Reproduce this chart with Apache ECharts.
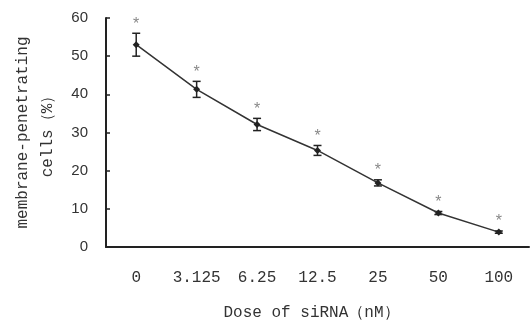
<!DOCTYPE html>
<html><head><meta charset="utf-8">
<script src="https://cdn.jsdelivr.net/npm/echarts@6/dist/echarts.min.js"></script>
<style>html,body{margin:0;padding:0;background:#fff}#c{width:530px;height:321px}</style>
</head><body><div id="c"></div>
<script>
const categories = ['0','3.125','6.25','12.5','25','50','100'];
const means = [53.0, 41.3, 32.1, 25.3, 16.8, 8.9, 3.9];
const errors = [3.0, 2.1, 1.6, 1.3, 0.8, 0.4, 0.3];
const yTicks = [0,10,20,30,40,50,60];
const xTitle = 'Dose of siRNA（nM）';
const yTitle = 'membrane-penetrating\ncells（%）';

const chart = echarts.init(document.getElementById('c'));
const mono = '"Liberation Mono","DejaVu Sans Mono",monospace';
chart.setOption({
  animation:false,
  grid:{left:106,right:1,top:18,bottom:74,outerBoundsMode:'none',containLabel:false},
  xAxis:{type:'category',data:categories,boundaryGap:true,
    axisLine:{lineStyle:{color:'#222',width:2}},
    axisTick:{inside:true,length:5,lineStyle:{color:'#222',width:1.5},alignWithLabel:false},
    axisLabel:{color:'#333',fontFamily:mono,fontSize:16,margin:23,interval:0,hideOverlap:false},
    name:xTitle,nameLocation:'middle',nameGap:58,
    nameTextStyle:{color:'#333',fontFamily:mono,fontSize:16,padding:[0,12,0,0]}},
  yAxis:{type:'value',min:0,max:60,interval:10,
    axisLine:{show:true,lineStyle:{color:'#222',width:2}},
    axisTick:{show:true,inside:true,length:4,lineStyle:{color:'#222',width:1.5}},
    splitLine:{show:false},
    axisLabel:{color:'#333',fontFamily:'"Liberation Sans",Arial,sans-serif',fontSize:15,margin:18,
      formatter:v=>yTicks.includes(v)?String(v):''},
    name:yTitle,nameLocation:'middle',nameGap:46,nameRotate:90,
    nameTextStyle:{color:'#333',fontFamily:mono,fontSize:16,lineHeight:25}},
  series:[
    {type:'line',data:means,symbol:'diamond',symbolSize:7,
      lineStyle:{color:'#333',width:1.5},itemStyle:{color:'#222'}},
    {type:'custom',
      data:means.map((m,i)=>[i,m,errors[i]]),
      renderItem:(params,api)=>{
        const x=api.value(0), m=api.value(1), e=api.value(2);
        const top=api.coord([x,m+e]), bot=api.coord([x,m-e]);
        const hw=4;
        return {type:'group',children:[
          {type:'line',shape:{x1:top[0],y1:top[1],x2:bot[0],y2:bot[1]},style:{stroke:'#222',lineWidth:1.5}},
          {type:'line',shape:{x1:top[0]-hw,y1:top[1],x2:top[0]+hw,y2:top[1]},style:{stroke:'#222',lineWidth:1.5}},
          {type:'line',shape:{x1:bot[0]-hw,y1:bot[1],x2:bot[0]+hw,y2:bot[1]},style:{stroke:'#222',lineWidth:1.5}},
          {type:'text',style:{x:top[0],y:top[1]-1,text:'*',fill:'#888',fontSize:16,
            fontFamily:'"Liberation Sans",sans-serif',align:'center',verticalAlign:'bottom'}}
        ]};
      },z:3}
  ]
});
</script></body></html>
